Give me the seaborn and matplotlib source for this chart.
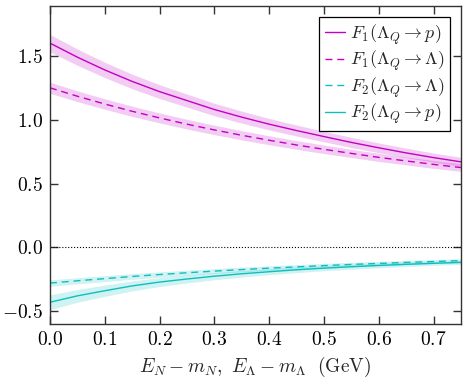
import matplotlib
matplotlib.use("Agg")
import matplotlib.pyplot as plt
import seaborn as sns
import numpy as np
from matplotlib.ticker import FuncFormatter

sns.set_style("ticks")
plt.rcParams['font.family'] = ['DejaVu Serif']
plt.rcParams['mathtext.fontset'] = 'cm'

# energy grid (GeV)
x = [0.0, 0.05, 0.10, 0.15, 0.20, 0.25, 0.30, 0.35, 0.40, 0.45, 0.50, 0.55, 0.60, 0.65, 0.70, 0.75]

# F1(Lambda_Q -> p)
f1_p = [1.60, 1.49, 1.39, 1.30, 1.22, 1.15, 1.08, 1.02, 0.965, 0.915, 0.868, 0.822, 0.780, 0.740, 0.703, 0.670]
f1_p_err = [0.068, 0.064, 0.060, 0.057, 0.054, 0.051, 0.049, 0.047, 0.045, 0.043, 0.041, 0.040, 0.038, 0.037, 0.036, 0.035]
# F1(Lambda_Q -> Lambda)
f1_l = [1.25, 1.184, 1.123, 1.066, 1.014, 0.965, 0.920, 0.878, 0.839, 0.802, 0.768, 0.736, 0.705, 0.677, 0.650, 0.625]
f1_l_err = [0.043, 0.042, 0.041, 0.040, 0.039, 0.038, 0.037, 0.036, 0.035, 0.034, 0.033, 0.032, 0.032, 0.031, 0.031, 0.030]
# F2(Lambda_Q -> Lambda)
f2_l = [-0.280, -0.262, -0.245, -0.228, -0.213, -0.199, -0.186, -0.174, -0.163, -0.153, -0.143, -0.134, -0.126, -0.118, -0.111, -0.104]
f2_l_err = [0.025, 0.024, 0.023, 0.022, 0.021, 0.020, 0.019, 0.019, 0.018, 0.018, 0.017, 0.017, 0.016, 0.016, 0.015, 0.015]
# F2(Lambda_Q -> p)
f2_p = [-0.430, -0.380, -0.340, -0.302, -0.272, -0.248, -0.226, -0.207, -0.191, -0.176, -0.163, -0.152, -0.142, -0.133, -0.125, -0.118]
f2_p_err = [0.058, 0.050, 0.044, 0.039, 0.035, 0.031, 0.028, 0.026, 0.024, 0.022, 0.020, 0.019, 0.018, 0.017, 0.016, 0.015]

magenta = '#c400c4'
cyan = '#10bebe'

series = [
    (f1_p, f1_p_err, magenta, '-', r'$F_1(\Lambda_Q\to p)$'),
    (f1_l, f1_l_err, magenta, '--', r'$F_1(\Lambda_Q\to \Lambda)$'),
    (f2_l, f2_l_err, cyan, '--', r'$F_2(\Lambda_Q\to \Lambda)$'),
    (f2_p, f2_p_err, cyan, '-', r'$F_2(\Lambda_Q\to p)$'),
]

fig = plt.figure(figsize=(4.67, 3.82), dpi=100)
ax = fig.add_axes([0.107, 0.152, 0.880, 0.832])

xs = np.array(x)
for y, err, col, ls, lab in series:
    y = np.array(y)
    err = np.array(err)
    ax.fill_between(xs, y - err, y + err, color=col, alpha=0.2, linewidth=0)
    line = sns.lineplot(x=xs, y=y, ax=ax, color=col, linewidth=1.0, label=lab).lines[-1]
    if ls == '--':
        line.set_dashes((5, 3.5))

ax.axhline(0, color='black', linestyle=':', linewidth=0.8)

ax.set_xlim(0, 0.75)
ax.set_ylim(-0.6, 1.89)
ax.set_xticks([0, 0.1, 0.2, 0.3, 0.4, 0.5, 0.6, 0.7])
ax.set_yticks([-0.5, 0.0, 0.5, 1.0, 1.5])
fmt = FuncFormatter(lambda v, p: '$%.1f$' % v)
ax.xaxis.set_major_formatter(fmt)
ax.yaxis.set_major_formatter(fmt)
ax.tick_params(direction='in', length=6, width=1, top=True, right=True, labelsize=14,
               colors='#333333', labelcolor='black', pad=5)
for s in ax.spines.values():
    s.set_color('#333333')
    s.set_linewidth(1.0)

ax.set_xlabel(r'$E_N - m_N,\ E_\Lambda - m_\Lambda\ \ (\mathrm{GeV})$', fontsize=14)

leg = ax.legend(loc='upper right', fontsize=13, frameon=True, fancybox=False,
                edgecolor='black', framealpha=1, handlelength=1.1, handletextpad=0.3,
                borderpad=0.3, labelspacing=0.12, borderaxespad=0.6)
leg.get_frame().set_linewidth(0.9)

fig.savefig('out.png', dpi=100)
